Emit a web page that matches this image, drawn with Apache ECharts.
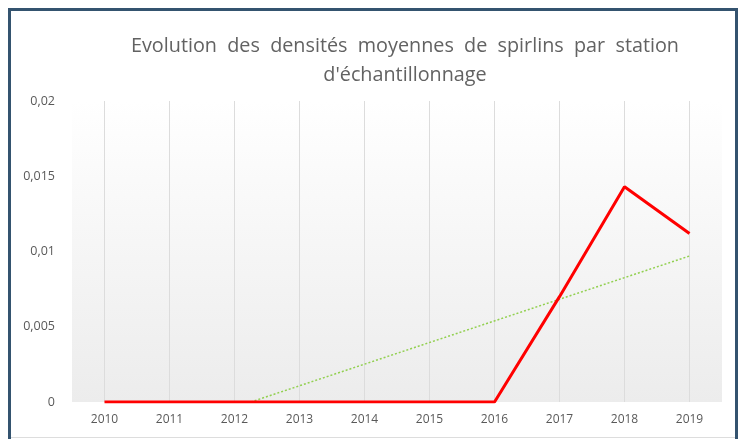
<!DOCTYPE html>
<html>
<head>
<meta charset="utf-8">
<script src="https://cdn.jsdelivr.net/npm/echarts@6/dist/echarts.min.js"></script>
<style>
  html, body { margin: 0; padding: 0; background: #ffffff; }
  #chart { width: 743px; height: 439px; }
</style>
</head>
<body>
<div id="chart"></div>
<script type="text/javascript">
  // years on the x axis
  var years = ['2010', '2011', '2012', '2013', '2014', '2015', '2016', '2017', '2018', '2019'];
  // mean spirlin density per sampling station
  var densities = [0, 0, 0, 0, 0, 0, 0, 0.0070, 0.0143, 0.0112];
  // linear trend: start and end (x in category index units)
  var trendPoints = [[2.25, 0], [9, 0.0097]];
  var yTicks = [0, 0.005, 0.01, 0.015, 0.02];

  var myChart = echarts.init(document.getElementById('chart'), null, { renderer: 'canvas' });

  var labelColor = '#595959';
  var option = {
    backgroundColor: '#ffffff',
    animation: false,
    title: {
      text: 'Evolution  des  densités  moyennes  de  spirlins  par  station\nd\'échantillonnage',
      left: 400,
      top: 27,
      textAlign: 'center',
      textStyle: {
        fontFamily: 'Open Sans',
        fontWeight: 'normal',
        fontSize: 19.8,
        color: '#626262',
        lineHeight: 29
      }
    },
    grid: {
      left: 72,
      right: 21,
      top: 101,
      bottom: 37,
      show: true,
      borderWidth: 0,
      backgroundColor: new echarts.graphic.LinearGradient(0, 0, 0, 1, [
        { offset: 0, color: '#ffffff' },
        { offset: 1, color: '#ececec' }
      ])
    },
    xAxis: [
      {
        type: 'category',
        data: years,
        boundaryGap: true,
        axisLine: { show: false },
        axisTick: { show: false },
        axisLabel: { color: labelColor, fontFamily: 'Open Sans', fontSize: 12, margin: 12 },
        splitLine: { show: true, alignWithLabel: true, lineStyle: { color: '#dcdcdc', width: 1 } }
      },
      {
        // hidden value axis aligned with category centres, for the trend line
        type: 'value',
        min: -0.5,
        max: 9.5,
        show: false
      }
    ],
    yAxis: {
      type: 'value',
      min: 0,
      max: 0.02,
      interval: 0.005,
      axisLine: { show: false },
      axisTick: { show: false },
      splitLine: { show: false },
      axisLabel: {
        color: labelColor,
        fontFamily: 'Open Sans',
        fontSize: 12.5,
        margin: 17,
        formatter: function (v) {
          if (yTicks.indexOf(v) < 0) return '';
          return String(+v.toFixed(3)).replace('.', ',');
        }
      }
    },
    series: [
      {
        name: 'Densité',
        type: 'line',
        data: densities,
        symbol: 'none',
        lineStyle: { color: '#ff0000', width: 3 },
        z: 3
      },
      {
        name: 'Tendance',
        type: 'line',
        xAxisIndex: 1,
        data: trendPoints,
        symbol: 'none',
        lineStyle: { color: '#92d050', width: 1.5, type: [2, 2] },
        z: 2
      }
    ],
    graphic: {
      elements: [
        {
          type: 'rect',
          shape: { x: 9.5, y: 9.5, width: 727, height: 460 },
          style: { fill: 'none', stroke: '#34536f', lineWidth: 3 },
          z: 100
        },
        {
          type: 'line',
          shape: { x1: 11, y1: 437.5, x2: 735, y2: 437.5 },
          style: { stroke: '#dddddd', lineWidth: 1 },
          z: 100
        }
      ]
    }
  };
  myChart.setOption(option);
</script>
</body>
</html>
